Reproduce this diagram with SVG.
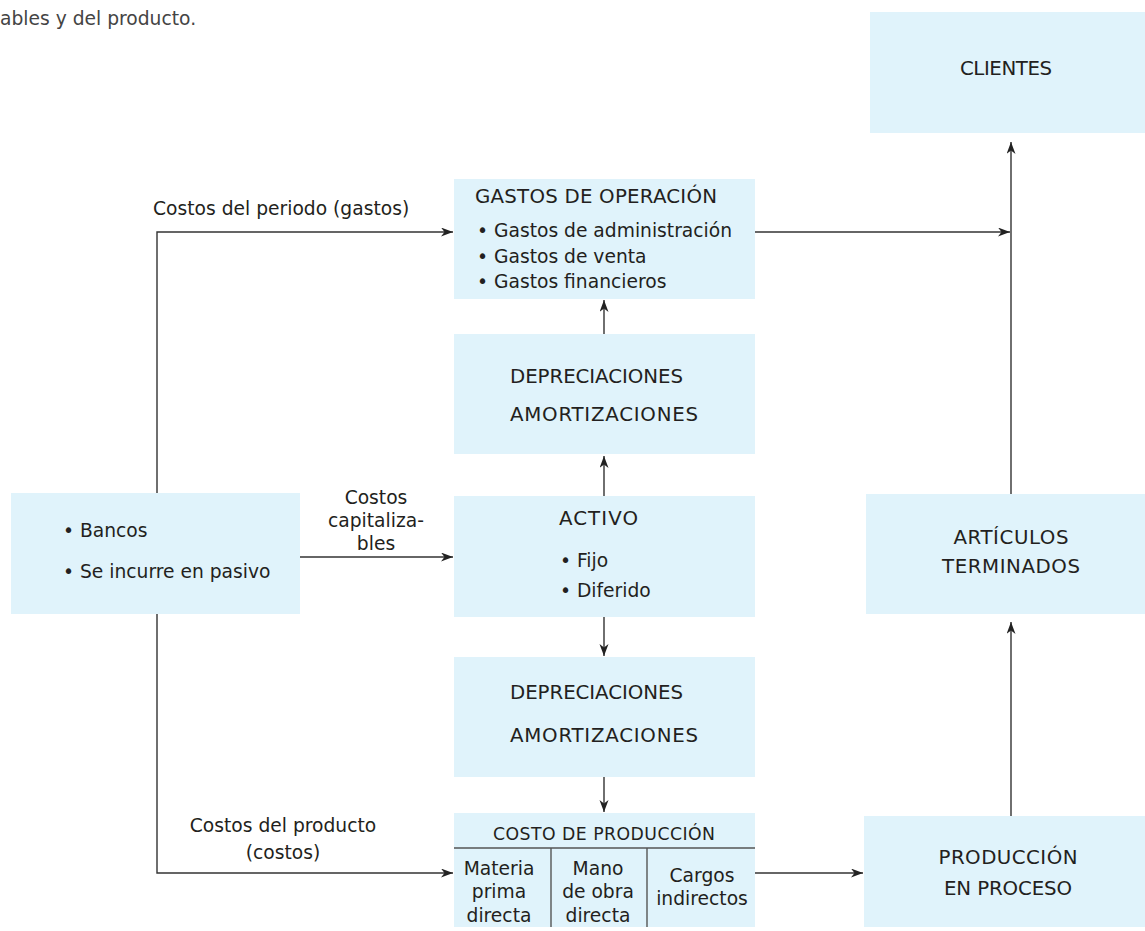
<svg xmlns="http://www.w3.org/2000/svg" width="1145" height="931" viewBox="0 0 1145 931">
<style>
  .box { fill: #e0f3fb; }
  .t { font-family: "DejaVu Sans", "Open Sans", sans-serif; font-size: 18.7px; fill: #231f20; }
  .u { font-size: 19.8px; }
  .s { font-size: 17.3px; }
  .c { text-anchor: middle; }
  .ln { fill: none; stroke: #333; stroke-width: 1.4; }
  .div { stroke: #555; stroke-width: 1.4; }
</style>
<defs>
  <marker id="ah" markerUnits="userSpaceOnUse" markerWidth="13" markerHeight="10" refX="12" refY="4.5" orient="auto">
    <path d="M0,0 L12,4.5 L0,9 L3.5,4.5 z" fill="#222"/>
  </marker>
</defs>
<text class="t" x="0" y="25" style="fill:#444">ables y del producto.</text>

<g id="connectors">
  <path class="ln" d="M157,493 V232 H453" marker-end="url(#ah)"/>
  <path class="ln" d="M157,614 V873 H453" marker-end="url(#ah)"/>
  <path class="ln" d="M300,557 H453" marker-end="url(#ah)"/>
  <path class="ln" d="M755,232 H1010" marker-end="url(#ah)"/>
  <path class="ln" d="M1011,494 V142" marker-end="url(#ah)"/>
  <path class="ln" d="M604,334 V300" marker-end="url(#ah)"/>
  <path class="ln" d="M604,496 V456" marker-end="url(#ah)"/>
  <path class="ln" d="M604,617 V656" marker-end="url(#ah)"/>
  <path class="ln" d="M604,777 V812" marker-end="url(#ah)"/>
  <path class="ln" d="M755,873 H863" marker-end="url(#ah)"/>
  <path class="ln" d="M1011,816 V622" marker-end="url(#ah)"/>
  <text class="t" x="153" y="215">Costos del periodo (gastos)</text>
  <text class="t c"><tspan x="376" y="504">Costos</tspan><tspan x="376" y="527">capitaliza-</tspan><tspan x="376" y="550">bles</tspan></text>
  <text class="t c"><tspan x="283" y="832">Costos del producto</tspan><tspan x="283" y="859">(costos)</tspan></text>
</g>

<g id="clientes">
  <rect class="box" x="870" y="12" width="275" height="121"/>
  <text class="t u c" x="1006" y="75" textLength="92" lengthAdjust="spacing">CLIENTES</text>
</g>

<g id="gastos">
  <rect class="box" x="454" y="179" width="301" height="120"/>
  <text class="t"><tspan class="u" x="475" y="203" textLength="242" lengthAdjust="spacing">GASTOS DE OPERACIÓN</tspan><tspan x="477" y="237">• Gastos de administración</tspan><tspan x="477" y="263">• Gastos de venta</tspan><tspan x="477" y="288">• Gastos financieros</tspan></text>
</g>

<g id="depreciaciones1">
  <rect class="box" x="454" y="334" width="301" height="120"/>
  <text class="t u"><tspan x="510" y="383" textLength="173" lengthAdjust="spacing">DEPRECIACIONES</tspan><tspan x="510" y="421" textLength="188" lengthAdjust="spacing">AMORTIZACIONES</tspan></text>
</g>

<g id="bancos">
  <rect class="box" x="11" y="493" width="289" height="121"/>
  <text class="t"><tspan x="63" y="537">• Bancos</tspan><tspan x="63" y="578">• Se incurre en pasivo</tspan></text>
</g>

<g id="activo">
  <rect class="box" x="454" y="496" width="301" height="121"/>
  <text class="t"><tspan class="u" x="559" y="525" textLength="79" lengthAdjust="spacing">ACTIVO</tspan><tspan x="560" y="567">• Fijo</tspan><tspan x="560" y="597">• Diferido</tspan></text>
</g>

<g id="depreciaciones2">
  <rect class="box" x="454" y="657" width="301" height="120"/>
  <text class="t u"><tspan x="510" y="699" textLength="173" lengthAdjust="spacing">DEPRECIACIONES</tspan><tspan x="510" y="742" textLength="188" lengthAdjust="spacing">AMORTIZACIONES</tspan></text>
</g>

<g id="costo-produccion">
  <rect class="box" x="454" y="813" width="301" height="114"/>
  <line class="div" x1="454" y1="848" x2="755" y2="848"/>
  <line class="div" x1="551" y1="848" x2="551" y2="927"/>
  <line class="div" x1="647" y1="848" x2="647" y2="927"/>
  <text class="t s c" x="604" y="840" textLength="222" lengthAdjust="spacing">COSTO DE PRODUCCIÓN</text>
  <text class="t c"><tspan x="499" y="875">Materia</tspan><tspan x="499" y="898">prima</tspan><tspan x="499" y="922">directa</tspan></text>
  <text class="t c"><tspan x="598" y="875">Mano</tspan><tspan x="598" y="898">de obra</tspan><tspan x="598" y="922">directa</tspan></text>
  <text class="t c"><tspan x="702" y="882">Cargos</tspan><tspan x="702" y="905">indirectos</tspan></text>
</g>

<g id="articulos">
  <rect class="box" x="866" y="494" width="279" height="120"/>
  <text class="t u c"><tspan x="1011" y="544" textLength="115" lengthAdjust="spacing">ARTÍCULOS</tspan><tspan x="1011" y="573" textLength="138" lengthAdjust="spacing">TERMINADOS</tspan></text>
</g>

<g id="produccion">
  <rect class="box" x="864" y="816" width="281" height="111"/>
  <text class="t u c"><tspan x="1008" y="864" textLength="139" lengthAdjust="spacing">PRODUCCIÓN</tspan><tspan x="1008" y="895" textLength="128" lengthAdjust="spacing">EN PROCESO</tspan></text>
</g>
</svg>
